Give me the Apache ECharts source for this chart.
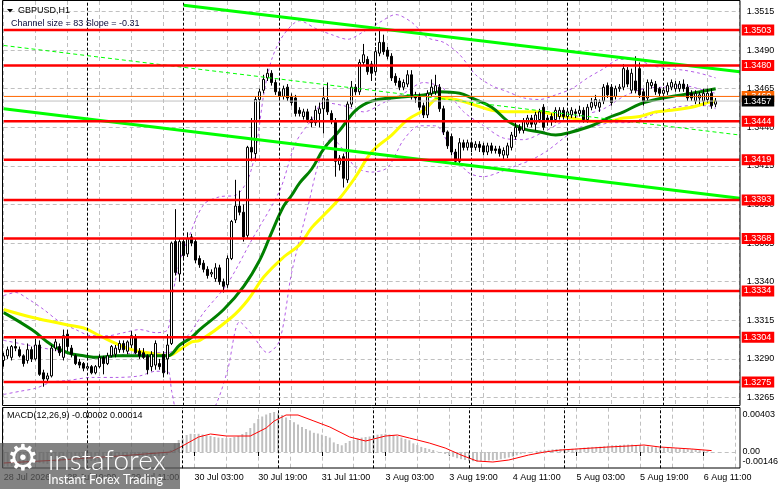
<!DOCTYPE html>
<html><head><meta charset="utf-8">
<script src="https://cdn.jsdelivr.net/npm/echarts@6/dist/echarts.min.js"></script>
<style>html,body{margin:0;padding:0;background:#fff}#c{width:781px;height:489px}</style>
</head><body><div id="c"></div>
<script>
// ---------- DATA ----------
const symbolTitle = 'GBPUSD,H1';
const channelText = 'Channel size = 83 Slope = -0.31';
const macdTitle = 'MACD(12,26,9) -0.00002 0.00014';
const firstLabel = '28 Jul 2026';
const dayNames = ['28 Jul','29 Jul','30 Jul','31 Jul','3 Aug','4 Aug','5 Aug','6 Aug'];
const dayFirstHour = [3,0,0,0,0,0,0,0];
const dayLastHour = [23,23,23,23,23,23,23,19];
const priceTicks = [1.3265,1.3290,1.3315,1.3340,1.3365,1.3390,1.3415,1.3440,1.3465,1.3490,1.3515];
const macdTicks = [0.00403, 0, -0.00146];
const levels = [1.3503,1.3480,1.3444,1.3419,1.3393,1.3368,1.3334,1.3304,1.3275];
const askLevel = 1.3460;
const bidLevel = 1.3457;
// [open, close, low, high]
const candles = [
[1.3289,1.3292,1.3285,1.3294],[1.3292,1.3296,1.3290,1.3298],[1.3291,1.3298,1.3289,1.3299],[1.3298,1.3297,1.3295,1.3303],
[1.3296,1.3292,1.3291,1.3298],[1.3292,1.3287,1.3285,1.3293],[1.3289,1.3296,1.3287,1.3300],[1.3296,1.3290,1.3288,1.3298],
[1.3290,1.3299,1.3289,1.3303],[1.3299,1.3280,1.3279,1.3302],[1.3281,1.3277,1.3272,1.3283],[1.3277,1.3279,1.3275,1.3281],
[1.3279,1.3297,1.3278,1.3299],[1.3297,1.3301,1.3295,1.3303],[1.3298,1.3294,1.3292,1.3300],[1.3291,1.3305,1.3289,1.3309],
[1.3306,1.3298,1.3295,1.3309],[1.3297,1.3293,1.3291,1.3299],[1.3292,1.3287,1.3286,1.3293],[1.3288,1.3286,1.3284,1.3290],
[1.3287,1.3284,1.3282,1.3288],[1.3284,1.3285,1.3283,1.3287],[1.3285,1.3281,1.3280,1.3286],[1.3281,1.3285,1.3280,1.3286],
[1.3285,1.3291,1.3284,1.3293],[1.3291,1.3287,1.3280,1.3292],[1.3287,1.3292,1.3286,1.3294],[1.3292,1.3298,1.3291,1.3299],
[1.3293,1.3297,1.3291,1.3299],[1.3296,1.3300,1.3294,1.3302],[1.3300,1.3296,1.3294,1.3302],[1.3295,1.3301,1.3293,1.3302],
[1.3299,1.3305,1.3297,1.3308],[1.3304,1.3294,1.3293,1.3306],[1.3295,1.3292,1.3290,1.3297],[1.3294,1.3291,1.3290,1.3297],
[1.3292,1.3283,1.3280,1.3293],[1.3285,1.3293,1.3282,1.3295],[1.3286,1.3300,1.3283,1.3302],[1.3287,1.3285,1.3283,1.3290],
[1.3293,1.3281,1.3278,1.3295],[1.3290,1.3299,1.3280,1.3306],[1.3300,1.3365,1.3299,1.3366],[1.3366,1.3346,1.3344,1.3387],
[1.3345,1.3366,1.3340,1.3368],[1.3366,1.3357,1.3355,1.3368],[1.3358,1.3368,1.3356,1.3372],[1.3369,1.3365,1.3363,1.3371],
[1.3366,1.3354,1.3352,1.3368],[1.3355,1.3351,1.3349,1.3357],[1.3352,1.3348,1.3346,1.3354],[1.3348,1.3344,1.3342,1.3350],
[1.3345,1.3346,1.3343,1.3348],[1.3342,1.3349,1.3340,1.3352],[1.3349,1.3340,1.3338,1.3351],[1.3340,1.3337,1.3333,1.3342],
[1.3338,1.3355,1.3336,1.3357],[1.3355,1.3379,1.3354,1.3380],[1.3380,1.3389,1.3378,1.3406],[1.3389,1.3385,1.3383,1.3399],
[1.3385,1.3369,1.3366,1.3390],[1.3370,1.3427,1.3368,1.3428],[1.3427,1.3424,1.3418,1.3446],[1.3423,1.3458,1.3418,1.3460],
[1.3458,1.3463,1.3445,1.3465],[1.3464,1.3471,1.3462,1.3474],[1.3472,1.3475,1.3470,1.3478],[1.3475,1.3469,1.3467,1.3477],
[1.3469,1.3463,1.3461,1.3471],[1.3463,1.3460,1.3457,1.3465],[1.3460,1.3465,1.3458,1.3467],[1.3466,1.3459,1.3457,1.3468],
[1.3460,1.3456,1.3454,1.3462],[1.3459,1.3449,1.3447,1.3461],[1.3451,1.3449,1.3447,1.3453],[1.3447,1.3450,1.3445,1.3452],
[1.3450,1.3445,1.3443,1.3452],[1.3445,1.3443,1.3440,1.3447],[1.3443,1.3451,1.3441,1.3454],[1.3449,1.3452,1.3440,1.3456],
[1.3452,1.3459,1.3436,1.3466],[1.3458,1.3450,1.3448,1.3469],[1.3449,1.3444,1.3442,1.3451],[1.3444,1.3418,1.3408,1.3446],
[1.3416,1.3420,1.3412,1.3422],[1.3421,1.3407,1.3401,1.3423],[1.3406,1.3455,1.3404,1.3457],[1.3455,1.3466,1.3453,1.3470],
[1.3466,1.3463,1.3461,1.3468],[1.3463,1.3482,1.3461,1.3484],[1.3482,1.3487,1.3480,1.3494],[1.3484,1.3476,1.3474,1.3486],
[1.3481,1.3475,1.3470,1.3483],[1.3476,1.3489,1.3474,1.3492],[1.3488,1.3495,1.3486,1.3505],[1.3495,1.3489,1.3487,1.3500],
[1.3490,1.3486,1.3484,1.3492],[1.3486,1.3472,1.3470,1.3488],[1.3473,1.3469,1.3467,1.3475],[1.3470,1.3466,1.3464,1.3472],
[1.3466,1.3469,1.3464,1.3471],[1.3468,1.3474,1.3466,1.3477],[1.3474,1.3460,1.3458,1.3477],[1.3461,1.3459,1.3456,1.3463],
[1.3460,1.3453,1.3451,1.3462],[1.3454,1.3448,1.3446,1.3456],[1.3448,1.3462,1.3446,1.3464],[1.3462,1.3466,1.3460,1.3471],
[1.3463,1.3467,1.3461,1.3474],[1.3466,1.3452,1.3450,1.3468],[1.3452,1.3437,1.3435,1.3454],[1.3437,1.3428,1.3426,1.3438],
[1.3434,1.3424,1.3422,1.3436],[1.3424,1.3418,1.3416,1.3426],[1.3418,1.3430,1.3416,1.3433],[1.3430,1.3427,1.3425,1.3432],
[1.3427,1.3430,1.3425,1.3432],[1.3430,1.3427,1.3424,1.3431],[1.3427,1.3429,1.3425,1.3431],[1.3429,1.3427,1.3424,1.3431],
[1.3428,1.3424,1.3422,1.3430],[1.3424,1.3428,1.3422,1.3430],[1.3428,1.3425,1.3423,1.3430],[1.3426,1.3425,1.3423,1.3428],
[1.3426,1.3423,1.3421,1.3428],[1.3422,1.3425,1.3419,1.3427],[1.3422,1.3428,1.3420,1.3430],[1.3427,1.3435,1.3425,1.3437],
[1.3434,1.3440,1.3432,1.3443],[1.3440,1.3438,1.3436,1.3442],[1.3438,1.3444,1.3436,1.3446],[1.3442,1.3446,1.3440,1.3448],
[1.3446,1.3442,1.3440,1.3448],[1.3442,1.3448,1.3438,1.3450],[1.3445,1.3450,1.3443,1.3452],[1.3453,1.3440,1.3438,1.3455],
[1.3446,1.3444,1.3441,1.3448],[1.3447,1.3444,1.3441,1.3449],[1.3445,1.3451,1.3443,1.3453],[1.3447,1.3451,1.3445,1.3453],
[1.3451,1.3447,1.3445,1.3453],[1.3447,1.3450,1.3445,1.3452],[1.3448,1.3451,1.3446,1.3453],[1.3450,1.3449,1.3446,1.3452],
[1.3449,1.3451,1.3447,1.3454],[1.3451,1.3445,1.3443,1.3453],[1.3445,1.3453,1.3443,1.3455],[1.3453,1.3456,1.3451,1.3459],
[1.3454,1.3458,1.3452,1.3461],[1.3453,1.3456,1.3450,1.3458],[1.3457,1.3466,1.3455,1.3468],[1.3467,1.3461,1.3459,1.3469],
[1.3466,1.3456,1.3454,1.3468],[1.3460,1.3465,1.3458,1.3467],[1.3465,1.3466,1.3463,1.3468],[1.3466,1.3478,1.3464,1.3481],
[1.3477,1.3468,1.3466,1.3479],[1.3464,1.3475,1.3462,1.3478],[1.3470,1.3464,1.3462,1.3486],[1.3478,1.3461,1.3459,1.3482],
[1.3463,1.3457,1.3454,1.3465],[1.3459,1.3469,1.3457,1.3471],[1.3467,1.3469,1.3465,1.3471],[1.3468,1.3463,1.3461,1.3470],
[1.3465,1.3462,1.3460,1.3466],[1.3462,1.3464,1.3460,1.3466],[1.3463,1.3467,1.3461,1.3469],[1.3466,1.3469,1.3464,1.3471],
[1.3465,1.3468,1.3463,1.3470],[1.3465,1.3468,1.3463,1.3470],[1.3468,1.3465,1.3463,1.3471],[1.3466,1.3459,1.3457,1.3468],
[1.3462,1.3459,1.3457,1.3464],[1.3457,1.3462,1.3455,1.3464],[1.3459,1.3461,1.3455,1.3463],[1.3457,1.3462,1.3454,1.3465],
[1.3458,1.3462,1.3456,1.3465],[1.3462,1.3454,1.3452,1.3465],[1.3455,1.3457,1.3453,1.3459]
];
// moving averages, sampled [barIndex, price]
const maFast = [[0,1.3320],[7,1.3309],[12,1.3299],[16,1.3294],[20,1.3292],[24,1.3291],[28,1.3292],[32,1.3292],[36,1.3292],[41,1.3292],[44,1.3299],[47,1.3304],[49,1.3309],[55,1.3322],[60,1.3337],[64,1.3354],[67,1.3372],[70,1.3389],[72,1.3396],[74,1.3404],[77,1.3413],[80,1.3426],[84,1.3438],[88,1.3451],[92,1.3457],[97,1.3459],[101,1.3460],[105,1.3461],[109,1.3463],[114,1.3462],[117,1.3459],[122,1.3453],[126,1.3444],[130,1.3439],[134,1.3437],[138,1.3435],[142,1.3437],[147,1.3441],[151,1.3446],[155,1.3450],[159,1.3455],[163,1.3458],[167,1.3460],[172,1.3462],[176,1.3464],[178,1.3465]];
const maSlow = [[0,1.3322],[7,1.3317],[16,1.3312],[20,1.3310],[24,1.3305],[28,1.3300],[32,1.3296],[36,1.3294],[41,1.3292],[44,1.3296],[47,1.3301],[49,1.3302],[57,1.3317],[61,1.3328],[65,1.3343],[70,1.3356],[74,1.3364],[77,1.3375],[80,1.3383],[84,1.3394],[88,1.3408],[92,1.3424],[97,1.3435],[101,1.3445],[105,1.3451],[109,1.3459],[113,1.3458],[117,1.3455],[122,1.3451],[126,1.3450],[130,1.3450],[134,1.3450],[138,1.3448],[142,1.3446],[147,1.3444],[151,1.3444],[155,1.3446],[159,1.3447],[163,1.3450],[167,1.3451],[172,1.3453],[176,1.3456],[178,1.3457]];
// Bollinger-style bands, sampled [barIndex, price]
const bandUpper = [[0,1.3331],[3,1.3333],[6,1.3329],[10,1.3322],[14,1.3314],[18,1.3309],[22,1.3305],[26,1.3305],[30,1.3307],[34,1.3309],[38,1.3307],[41,1.3309],[42,1.3328],[44,1.3353],[46,1.3367],[50,1.3390],[54,1.3395],[58,1.3396],[61,1.3406],[63,1.3425],[65,1.3461],[67,1.3484],[70,1.3500],[74,1.3509],[78,1.3504],[82,1.3500],[86,1.3497],[90,1.3502],[94,1.3508],[98,1.3513],[102,1.3508],[106,1.3498],[110,1.3495],[114,1.3487],[118,1.3474],[122,1.3467],[126,1.3463],[130,1.3459],[134,1.3458],[138,1.3461],[142,1.3465],[146,1.3472],[150,1.3478],[154,1.3484],[158,1.3484],[162,1.3480],[166,1.3478],[170,1.3477],[174,1.3475],[178,1.3472]];
const bandMiddle = [[0,1.3302],[8,1.3298],[16,1.3294],[24,1.3290],[30,1.3293],[36,1.3294],[41,1.3294],[46,1.3305],[50,1.3320],[56,1.3339],[62,1.3367],[69,1.3399],[73,1.3430],[77,1.3445],[80,1.3456],[85,1.3454],[90,1.3450],[95,1.3456],[100,1.3462],[105,1.3469],[110,1.3465],[115,1.3450],[120,1.3441],[125,1.3433],[130,1.3432],[135,1.3437],[140,1.3444],[145,1.3448],[150,1.3452],[155,1.3460],[160,1.3465],[165,1.3466],[170,1.3467],[175,1.3464],[178,1.3462]];
const bandLower = [[0,1.3267],[4,1.3269],[8,1.3271],[12,1.3275],[16,1.3276],[22,1.3278],[28,1.3278],[34,1.3279],[38,1.3282],[41,1.3282],[42,1.3269],[44,1.3250],[49,1.3244],[53,1.3260],[56,1.3283],[59,1.3314],[62,1.3306],[66,1.3294],[69,1.3302],[72,1.3346],[76,1.3388],[79,1.3419],[82,1.3433],[85,1.3425],[88,1.3414],[92,1.3411],[96,1.3414],[100,1.3432],[104,1.3441],[108,1.3441],[112,1.3425],[116,1.3411],[120,1.3408],[124,1.3411],[128,1.3415],[132,1.3419],[136,1.3425],[140,1.3433],[144,1.3440],[148,1.3441],[152,1.3443],[156,1.3443],[160,1.3446],[164,1.3450],[168,1.3453],[172,1.3454],[176,1.3454],[178,1.3452]];
// regression channel endpoints [barIndex, price]
const channelUpper = [[45,1.3519],[184,1.3476]];
const channelMiddle = [[0,1.3493],[184,1.3435]];
const channelLower = [[0,1.3452],[184,1.3394]];
// MACD
const macdHist = [
-0.00140,-0.00145,-0.00140,-0.00135,-0.00130,-0.00128,-0.00125,-0.00120,-0.00115,-0.00110,
-0.00115,-0.00120,-0.00110,-0.00100,-0.00095,-0.00085,-0.00080,-0.00082,-0.00085,-0.00088,
-0.00090,-0.00092,-0.00090,-0.00088,-0.00085,-0.00080,-0.00075,-0.00070,-0.00065,-0.00060,
-0.00055,-0.00050,-0.00045,-0.00045,-0.00048,-0.00050,-0.00055,-0.00050,-0.00045,-0.00040,
-0.00040,-0.00030,0.00020,
0.00086,0.00120,0.00134,0.00170,0.00182,0.00180,0.00182,0.00175,0.00165,0.00160,
0.00150,0.00144,0.00140,0.00138,0.00140,0.00150,0.00160,0.00180,0.00200,0.00240,
0.00288,0.00330,0.00355,0.00375,0.00390,0.00400,0.00385,0.00370,0.00345,0.00320,
0.00298,0.00275,0.00250,0.00230,0.00215,0.00192,0.00185,0.00173,0.00160,0.00144,
0.00096,0.00080,0.00067,0.00090,0.00110,0.00120,0.00135,0.00144,0.00150,0.00155,
0.00165,0.00173,0.00178,0.00182,0.00175,0.00170,0.00160,0.00144,0.00130,0.00118,
0.00086,0.00070,0.00051,0.00040,0.00029,0.00020,0.00005,
-0.00005,-0.00020,-0.00035,-0.00048,-0.00062,-0.00072,-0.00080,-0.00088,-0.00092,-0.00094,
-0.00092,-0.00088,-0.00085,-0.00083,-0.00079,-0.00072,-0.00064,-0.00055,-0.00046,-0.00033,
-0.00022,-0.00015,-0.00006,0.00002,0.00010,0.00014,0.00018,0.00022,0.00026,0.00030,
0.00030,0.00027,0.00028,0.00032,0.00035,0.00040,0.00044,0.00048,0.00051,0.00051,
0.00054,0.00057,0.00062,0.00067,0.00067,0.00070,0.00073,0.00074,0.00074,0.00070,
0.00064,0.00059,0.00055,0.00051,0.00047,0.00044,0.00042,0.00040,0.00038,0.00036,
0.00033,0.00029,0.00027,0.00026,0.00021,0.00018,0.00014,0.00010,-0.00002
];
const macdSignal = [[0,-0.0011],[14,-0.0008],[29,-0.0004],[42,0.0000],[44,0.0004],[49,0.0015],[52,0.0018],[56,0.0016],[62,0.0016],[66,0.0024],[68,0.0031],[71,0.0037],[74,0.0037],[78,0.0031],[82,0.0025],[87,0.0015],[91,0.0011],[93,0.0013],[96,0.0016],[99,0.0017],[102,0.0014],[107,0.0009],[111,0.0004],[115,-0.0003],[119,-0.0009],[123,-0.0010],[127,-0.0008],[132,-0.0003],[136,0.0000],[140,0.0002],[144,0.0003],[148,0.0004],[152,0.0005],[157,0.0006],[161,0.0007],[165,0.0005],[169,0.0004],[173,0.0003],[178,0.00014]];

// ---------- BUILD ----------
const FONT = '"Liberation Sans", Arial, sans-serif';
const categories = [];
dayNames.forEach((d, k) => {
  for (let h = dayFirstHour[k]; h <= dayLastHour[k]; h++) categories.push(d + ' ' + String(h).padStart(2, '0') + ':00');
});
const separators = categories.map((c, i) => (c.endsWith(' 00:00') ? i : -1)).filter(i => i > 0);
const lastIdx = categories.length - 1;

const gridDash = [4, 3];
const sepMark = {
  silent: true, symbol: ['none', 'none'], label: { show: false },
  lineStyle: { color: '#000', type: [3, 2], width: 1 },
  data: separators.map(i => ({ xAxis: categories[i] }))
};

function pathLine(name, data, color, width, type, z, smooth) {
  return { name, type: 'line', xAxisIndex: 0, yAxisIndex: 0, data, showSymbol: false, symbol: 'none',
    smooth: smooth || false, silent: true, z, lineStyle: { color, width, type: type || 'solid' } };
}
function levelLine(val, color, width, tagBg, tagColor, z) {
  return { type: 'line', xAxisIndex: 0, yAxisIndex: 0, data: [[0, val], [lastIdx, val]], showSymbol: false, symbol: 'none',
    silent: true, z, lineStyle: { color, width },
    endLabel: { show: true, formatter: () => val.toFixed(4), distance: 2, backgroundColor: tagBg, color: tagColor,
      fontSize: 9, fontFamily: FONT, lineHeight: 9, padding: [1, 3, 1, 2] } };
}

const series = [
  { type: 'line', xAxisIndex: 0, yAxisIndex: 0, data: [], markLine: sepMark, z: 1, silent: true },
  pathLine('bbU', bandUpper, '#b35ce6', 1, [3, 3], 2, 0.3),
  pathLine('bbM', bandMiddle, '#b35ce6', 1, [3, 3], 2, 0.3),
  pathLine('bbL', bandLower, '#b35ce6', 1, [3, 3], 2, 0.3),
  pathLine('maSlow', maSlow, '#ffff00', 3, 'solid', 3, 0.4),
  pathLine('maFast', maFast, '#008000', 3, 'solid', 3, 0.4),
  { type: 'candlestick', xAxisIndex: 0, yAxisIndex: 0, data: candles, barWidth: 2, clip: false, z: 5, silent: true,
    itemStyle: { color: '#ffffff', color0: '#000000', borderColor: '#000000', borderColor0: '#000000', borderWidth: 1 } },
  pathLine('chU', channelUpper, '#00ff00', 3, 'solid', 6),
  pathLine('chM', channelMiddle, '#00ff00', 1, [4, 3], 6),
  pathLine('chL', channelLower, '#00ff00', 3, 'solid', 6),
];
levels.forEach(v => series.push(levelLine(v, '#ff0000', 2.5, '#ff0000', '#ffffff', 7)));
series.push(levelLine(askLevel, '#ff6600', 1, '#ff6600', '#ffffff', 8));
series.push(levelLine(bidLevel, '#c0c0c0', 1, '#000000', '#ffffff', 9));
// MACD pane
series.push({ type: 'line', xAxisIndex: 1, yAxisIndex: 1, data: [], markLine: sepMark, z: 1, silent: true });
series.push({ type: 'bar', xAxisIndex: 1, yAxisIndex: 1, data: macdHist, barWidth: 2, silent: true, z: 3,
  itemStyle: { color: '#c0c0c0' } });
series.push({ type: 'line', xAxisIndex: 1, yAxisIndex: 1, data: macdSignal, showSymbol: false, symbol: 'none', silent: true, z: 4,
  lineStyle: { color: '#ff0000', width: 1 } });

const labelStyle = { fontSize: 9, fontFamily: FONT, color: '#000' };
const option = {
  animation: false,
  backgroundColor: '#ffffff',
  grid: [
    { left: 3.7, top: 1, width: 736, height: 404.7 },
    { left: 3.7, top: 407.7, width: 736, height: 60.6 }
  ],
  xAxis: [
    { type: 'category', gridIndex: 0, data: categories, boundaryGap: false,
      axisLine: { show: false }, axisTick: { show: false }, axisLabel: { show: false },
      splitLine: { show: true, interval: 7, lineStyle: { color: '#c0c0c0', type: gridDash, width: 1 } } },
    { type: 'category', gridIndex: 1, data: categories, boundaryGap: false,
      axisLine: { show: false },
      axisTick: { show: true, interval: 15, length: 4, lineStyle: { color: '#000' } },
      axisLabel: Object.assign({ show: true, interval: 15, align: 'left', margin: 5,
        formatter: (v, i) => (i === 0 ? firstLabel : v) }, labelStyle),
      splitLine: { show: true, interval: 7, lineStyle: { color: '#c0c0c0', type: gridDash, width: 1 } } }
  ],
  yAxis: [
    { type: 'value', gridIndex: 0, position: 'right', min: 1.32597, max: 1.35218,
      axisLine: { show: false },
      axisTick: { show: false, customValues: priceTicks },
      axisLabel: Object.assign({ customValues: priceTicks, margin: 7, formatter: v => v.toFixed(4) }, labelStyle),
      splitLine: { show: true, lineStyle: { color: '#c0c0c0', type: gridDash, width: 1 } } },
    { type: 'value', gridIndex: 1, position: 'right', min: -0.00163, max: 0.00443,
      axisLine: { show: false },
      axisTick: { show: false, customValues: [0] },
      axisLabel: Object.assign({ customValues: macdTicks, margin: 7,
        formatter: v => {
          const s = v === 0 ? '0.00' : v.toFixed(5);
          if (v === macdTicks[0]) return '{t|' + s + '}';
          if (v === macdTicks[2]) return '{b|' + s + '}';
          return s;
        },
        rich: {
          t: { padding: [5, 0, 0, 0], fontSize: 9, fontFamily: FONT, color: '#000' },
          b: { padding: [0, 0, 10, 0], fontSize: 9, fontFamily: FONT, color: '#000' }
        } }, labelStyle),
      splitLine: { show: true, lineStyle: { color: '#c0c0c0', type: gridDash, width: 1 } } }
  ],
  series,
  graphic: [
    { type: 'rect', silent: true, z: 50, shape: { x: 2.5, y: 0.5, width: 737.5, height: 405 },
      style: { fill: 'none', stroke: '#000', lineWidth: 1 } },
    { type: 'rect', silent: true, z: 50, shape: { x: 2.5, y: 407.5, width: 737.5, height: 60.5 },
      style: { fill: 'none', stroke: '#000', lineWidth: 1 } },
    { type: 'polygon', silent: true, z: 60, shape: { points: [[7, 9], [13, 9], [10, 12.5]] }, style: { fill: '#000' } },
    { type: 'text', silent: true, z: 60, x: 18, y: 10.5,
      style: { text: symbolTitle, fontSize: 9, fontFamily: FONT, fill: '#000', verticalAlign: 'middle' } },
    { type: 'text', silent: true, z: 60, x: 11, y: 24,
      style: { text: channelText, fontSize: 9, fontFamily: FONT, fill: '#0a0a3c', verticalAlign: 'middle' } },
    { type: 'text', silent: true, z: 60, x: 7, y: 416,
      style: { text: macdTitle, fontSize: 9, fontFamily: FONT, fill: '#000', verticalAlign: 'middle' } },
    { type: 'group', silent: true, z: 100, children: [
      { type: 'rect', z: 100, shape: { x: 0, y: 443, width: 180, height: 46 }, style: { fill: 'rgba(90,90,90,0.75)' } },
      { type: 'text', z: 101, x: 23, y: 461,
        style: { text: '\u2699', fontSize: 36, fontFamily: '"DejaVu Sans", sans-serif', fill: '#ffffff', align: 'center', verticalAlign: 'middle' } },
      { type: 'text', z: 101, x: 48, y: 461,
        style: { text: 'instaforex', fontSize: 28, fontWeight: 300, fontFamily: 'Lato, "Open Sans", sans-serif', fill: '#ffffff', verticalAlign: 'middle' } },
      { type: 'text', z: 101, x: 48, y: 480,
        style: { text: 'Instant Forex Trading', fontSize: 12.5, fontFamily: 'Lato, "Open Sans", sans-serif', fill: '#ffffff', verticalAlign: 'middle' } }
    ] }
  ]
};
const chart = echarts.init(document.getElementById('c'));
chart.setOption(option);
</script>
</body></html>
